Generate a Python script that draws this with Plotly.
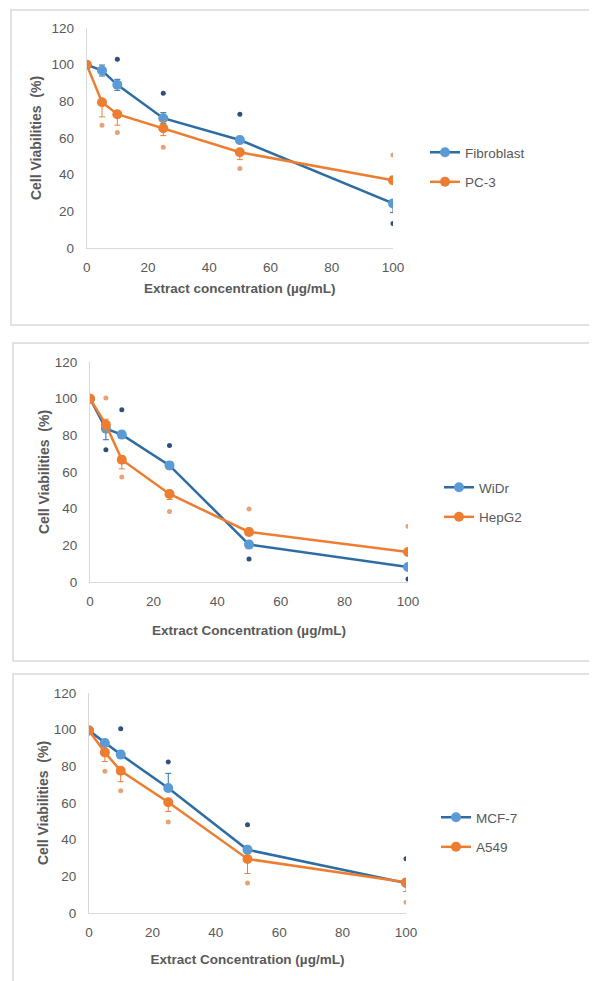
import plotly.graph_objects as go

# page body margin offsets the figure by 8px; positions below are page pixels
OFF = 8
W, H = 597 - OFF, 981 - OFF

conc = [0, 5, 10, 25, 50, 100]
xticks = [0, 20, 40, 60, 80, 100]
yticks = [0, 20, 40, 60, 80, 100, 120]

# Panel 1
fibro = [100, 96.8, 89, 70.8, 58.9, 24.3]
fibro_ep = [0, 3, 3, 3, 2, 2]
fibro_em = [0, 3, 3, 3, 2, 5]
pc3 = [100, 79.5, 73, 65.3, 52.2, 37]
pc3_ep = [0, 0, 0, 4, 0, 2]
pc3_em = [0, 8, 6, 4, 4, 2]
fibro_sig_x = [10, 25, 50, 100]
fibro_sig_y = [103, 84.4, 73, 13.3]
pc3_sig_x = [5, 10, 25, 50, 100]
pc3_sig_y = [67, 63, 55, 43.4, 50.7]

# Panel 2
widr = [100, 83.6, 80.4, 63.6, 20.4, 8.2]
widr_ep = [0, 2, 2, 2, 2, 1]
widr_em = [0, 6, 2, 2, 2, 1]
hepg2 = [100, 85.8, 66.7, 48, 27.3, 16.4]
hepg2_ep = [0, 3, 2, 2, 2, 1]
hepg2_em = [0, 3, 5, 3, 2, 1]
widr_sig_x = [5, 10, 25, 50, 100]
widr_sig_y = [72.2, 94, 74.4, 12.5, 1.6]
hepg2_sig_x = [5, 10, 25, 50, 100]
hepg2_sig_y = [100.4, 57.3, 38.5, 39.8, 30.4]

# Panel 3
mcf7 = [99.5, 92.7, 86.4, 68.2, 34.5, 16.4]
mcf7_ep = [0, 2, 2, 8, 2, 2]
mcf7_em = [0, 2, 2, 2, 2, 2]
a549 = [99.5, 87.6, 77.6, 60.4, 29.5, 16.7]
a549_ep = [0, 0, 0, 0, 0, 0]
a549_em = [0, 5, 6, 5, 8, 5]
mcf7_sig_x = [10, 25, 50, 100]
mcf7_sig_y = [100.5, 82.4, 48.2, 29.6]
a549_sig_x = [5, 10, 25, 50, 100]
a549_sig_y = [77.3, 66.7, 49.6, 16.4, 5.8]

BLUE_LINE = "#2E6DA4"
BLUE_MK = "#5B9BD5"
BLUE_DOT = "#2F4F7F"
ORANGE = "#ED7D31"
ORANGE_DOT = "#E9A276"
GRAY = "#595959"
FONT = "Liberation Sans"

panels = [
    dict(series=[("Fibroblast", fibro, fibro_ep, fibro_em, fibro_sig_x, fibro_sig_y, "blue"),
                 ("PC-3", pc3, pc3_ep, pc3_em, pc3_sig_x, pc3_sig_y, "orange")],
         xtitle="Extract concentration (µg/mL)", xst=9, yst=6,
         xdom=(86.7, 393), ydom=(28, 248), legend=(425, 137), frame=(11, 10, 640, 325)),
    dict(series=[("WiDr", widr, widr_ep, widr_em, widr_sig_x, widr_sig_y, "blue"),
                 ("HepG2", hepg2, hepg2_ep, hepg2_em, hepg2_sig_x, hepg2_sig_y, "orange")],
         xtitle="Extract Concentration (µg/mL)", xst=17, yst=1,
         xdom=(90, 408), ydom=(362, 582), legend=(439, 472), frame=(13, 343, 640, 661)),
    dict(series=[("MCF-7", mcf7, mcf7_ep, mcf7_em, mcf7_sig_x, mcf7_sig_y, "blue"),
                 ("A549", a549, a549_ep, a549_em, a549_sig_x, a549_sig_y, "orange")],
         xtitle="Extract Concentration (µg/mL)", xst=15, yst=1,
         xdom=(89, 406), ydom=(693, 913), legend=(436, 802), frame=(13, 674, 640, 1000)),
]


def px(v):
    return (v - OFF) / W


def py(v):
    return 1 - (v - OFF) / H


fig = go.Figure()
layout = dict(width=W, height=H, margin=dict(l=0, r=0, t=0, b=0, autoexpand=False),
              paper_bgcolor="white", plot_bgcolor="white",
              font=dict(family=FONT, color=GRAY, size=13), shapes=[])

for i, p in enumerate(panels):
    n = "" if i == 0 else str(i + 1)
    xa, ya = "x" + n, "y" + n
    leg = "legend" + n
    for name, ys, ep, em, sx, sy, col in p["series"]:
        lc = BLUE_LINE if col == "blue" else ORANGE
        mc = BLUE_MK if col == "blue" else ORANGE
        dc = BLUE_DOT if col == "blue" else ORANGE_DOT
        fig.add_trace(go.Scatter(
            x=conc, y=ys, name=name, mode="lines+markers", legendgroup=name,
            line=dict(color=lc, width=2.5),
            marker=dict(color=mc, size=10, line=dict(width=0)),
            error_y=dict(type="data", array=ep, arrayminus=em, color=lc,
                         thickness=1, width=3, visible=True),
            xaxis=xa, yaxis=ya, legend=leg))
        fig.add_trace(go.Scatter(
            x=sx, y=sy, mode="markers", showlegend=False, legendgroup=name,
            marker=dict(color=dc, size=5), hoverinfo="skip",
            xaxis=xa, yaxis=ya, legend=leg))
    x0, x1 = p["xdom"]
    yt, yb = p["ydom"]
    layout["xaxis" + n] = dict(
        domain=[px(x0), px(x1)], range=[0, 100], tickvals=xticks,
        showgrid=False, zeroline=False, showline=True, linecolor="#D9D9D9",
        linewidth=1, ticks="", ticklabelstandoff=7, anchor=ya, automargin=False,
        tickfont=dict(size=13.5, color=GRAY),
        title=dict(text="<b>" + p["xtitle"] + "</b>", standoff=p["xst"],
                   font=dict(size=13.5, color=GRAY)))
    layout["yaxis" + n] = dict(
        domain=[py(yb), py(yt)], range=[0, 120], tickvals=yticks,
        showgrid=False, zeroline=False, showline=True, linecolor="#D9D9D9",
        linewidth=1, ticks="", ticklabelstandoff=9, anchor=xa, automargin=False,
        tickfont=dict(size=13.5, color=GRAY),
        title=dict(text="<b>Cell Viabilities  (%)</b>", standoff=p["yst"],
                   font=dict(size=14, color=GRAY)))
    lx, ly = p["legend"]
    layout[leg] = dict(x=px(lx), y=py(ly), xanchor="left", yanchor="top",
                       bgcolor="rgba(0,0,0,0)", tracegroupgap=9,
                       font=dict(size=13.5, color=GRAY))
    fx0, fy0, fx1, fy1 = p["frame"]
    layout["shapes"].append(dict(type="rect", xref="paper", yref="paper",
                                 x0=px(fx0), x1=px(fx1), y0=py(fy1), y1=py(fy0),
                                 line=dict(color="#D9D9D9", width=1.5)))

fig.update_layout(**layout)
fig.write_html("out.html")
